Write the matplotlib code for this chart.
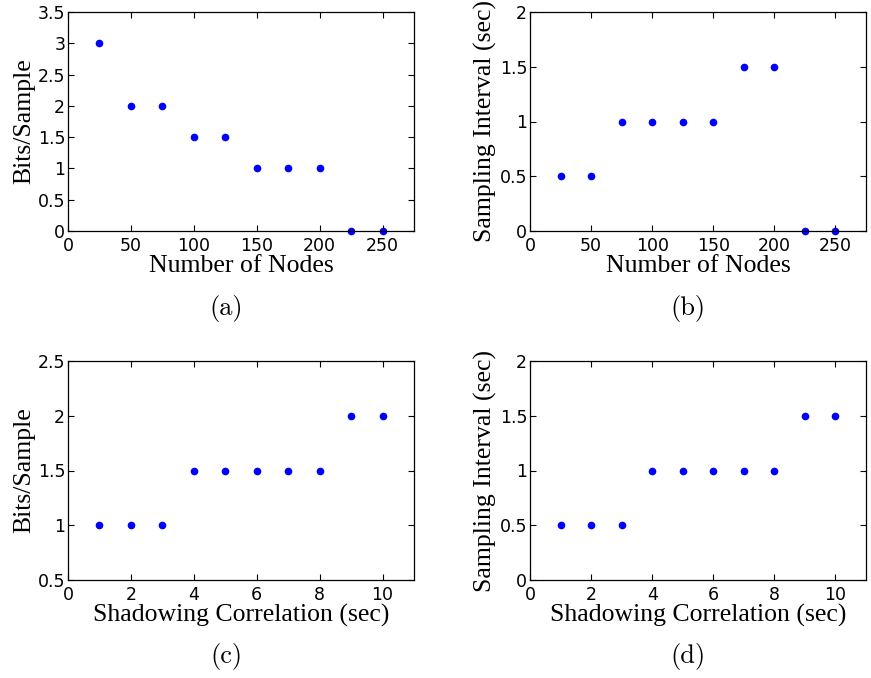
import matplotlib.pyplot as plt
from matplotlib.ticker import MultipleLocator

# data
nodes = [25, 50, 75, 100, 125, 150, 175, 200, 225, 250]
bits_nodes = [3, 2, 2, 1.5, 1.5, 1, 1, 1, 0, 0]
interval_nodes = [0.5, 0.5, 1, 1, 1, 1, 1.5, 1.5, 0, 0]
corr = [1, 2, 3, 4, 5, 6, 7, 8, 9, 10]
bits_corr = [1, 1, 1, 1.5, 1.5, 1.5, 1.5, 1.5, 2, 2]
interval_corr = [0.5, 0.5, 0.5, 1, 1, 1, 1, 1, 1.5, 1.5]

W, H = 871, 678
fig = plt.figure(figsize=(W/100, H/100), dpi=100)

def box(l, r, t, b):
    return [l/W, 1 - b/H, (r - l)/W, (b - t)/H]

lab_font = dict(family='Liberation Serif', size=18.5)
cap_font = dict(family='cmr10', size=19)

panels = [
    (box(68, 414, 12, 231), nodes, bits_nodes, 'Number of Nodes', 'Bits/Sample',
     (0, 275), 50, (0, 3.5), 0.5, '(a)', 308, 226),
    (box(530, 866, 12, 231), nodes, interval_nodes, 'Number of Nodes', 'Sampling Interval (sec)',
     (0, 275), 50, (0, 2), 0.5, '(b)', 308, 688),
    (box(68, 414, 361, 580), corr, bits_corr, 'Shadowing Correlation (sec)', 'Bits/Sample',
     (0, 11), 2, (0.5, 2.5), 0.5, '(c)', 657, 226),
    (box(530, 866, 361, 580), corr, interval_corr, 'Shadowing Correlation (sec)', 'Sampling Interval (sec)',
     (0, 11), 2, (0, 2), 0.5, '(d)', 657, 688),
]

for rect, x, y, xl, yl, xlim, xstep, ylim, ystep, cap, capy, capx in panels:
    ax = fig.add_axes(rect)
    ax.plot(x, y, 'o', color='#0000ff', markersize=4.5, clip_on=False)
    ax.set_xlim(*xlim); ax.set_ylim(*ylim)
    ax.xaxis.set_major_locator(MultipleLocator(xstep))
    ax.yaxis.set_major_locator(MultipleLocator(ystep))
    ax.yaxis.set_major_formatter(plt.FuncFormatter(lambda v, p: f'{v:g}'))
    ax.tick_params(direction='in', top=True, right=True, length=4, width=0.8,
                   labelsize=12.5)
    ax.tick_params(axis='x', pad=4)
    ax.tick_params(axis='y', pad=2)
    for s in ax.spines.values():
        s.set_linewidth(0.9)
    ax.set_xlabel(xl, labelpad=0, **lab_font)
    ax.set_ylabel(yl, labelpad=2, **lab_font)
    fig.text(capx/W, 1 - capy/H, cap, ha='center', va='center', **cap_font)

fig.savefig('out.png', dpi=100)
